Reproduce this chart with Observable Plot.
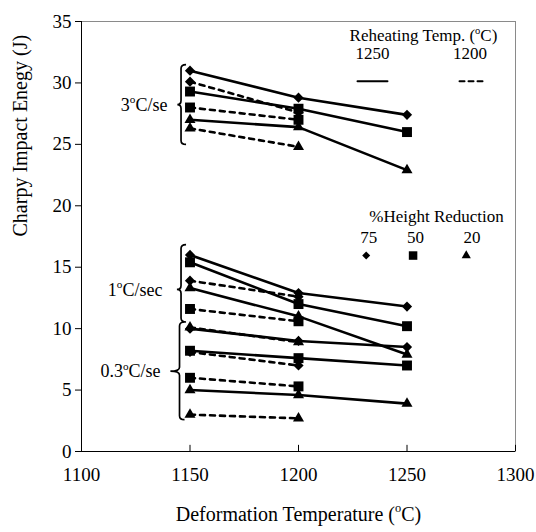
<!DOCTYPE html>
<html><head><meta charset="utf-8">
<script src="https://cdn.jsdelivr.net/npm/d3@7"></script>
<script src="https://cdn.jsdelivr.net/npm/@observablehq/plot@0.6"></script>
<style>body{margin:0;background:#fff} #chart{width:536px;height:532px} #chart text{font-family:'Liberation Serif','Times New Roman',serif}</style>
</head><body><div id="chart"></div>
<script>
// ---- data ----
const temps = [1150, 1200, 1250];
const reductions = [75, 50, 20];
const rateLabels = ["3°C/se", "1°C/sec", "0.3°C/se"];
// rows: 75, 50, 20 % height reduction; columns: deformation temperatures
const rate3_reheat1250 = [[31.0, 28.8, 27.4], [29.3, 27.9, 26.0], [27.0, 26.4, 22.9]];
const rate3_reheat1200 = [[30.1, 27.6], [28.0, 27.0], [26.3, 24.8]];
const rate1_reheat1250 = [[16.0, 12.9, 11.8], [15.4, 12.0, 10.2], [13.3, 11.0, 7.9]];
const rate1_reheat1200 = [[13.9, 12.6], [11.6, 10.6], [10.1, 8.9]];
const rate03_reheat1250 = [[10.0, 9.0, 8.5], [8.2, 7.6, 7.0], [5.0, 4.6, 3.9]];
const rate03_reheat1200 = [[8.1, 7.0], [6.0, 5.3], [3.0, 2.7]];
const xTicks = [1100, 1150, 1200, 1250, 1300];
const yTicks = [0, 5, 10, 15, 20, 25, 30, 35];
const reheatLabels = ["1250", "1200"];
const reductionLabels = ["75", "50", "20"];

// brace annotations (data units)
const braceTop = [31.45, 16.8, 10.5];
const braceBottom = [24.95, 10.5, 2.55];
const braceMid = [28.2, 13.15, 6.5];
const braceX = [1146.1, 1146.1, 1145.4];
const braceTipX = [1144.4, 1144.2, 1141.2];
const labelX = [1139.6, 1137.3, 1136.4];

// ---- build rows ----
const rows = [];
const groups = [
  [rate3_reheat1250, 1250, 0], [rate3_reheat1200, 1200, 0],
  [rate1_reheat1250, 1250, 1], [rate1_reheat1200, 1200, 1],
  [rate03_reheat1250, 1250, 2], [rate03_reheat1200, 1200, 2]
];
for (const [m, reheat, ri] of groups) {
  m.forEach((vals, i) => vals.forEach((v, j) => rows.push({
    key: ri + "-" + reheat + "-" + reductions[i], reheat, hr: reductions[i], T: temps[j], E: v
  })));
}
const solid = rows.filter(d => d.reheat === 1250);
const dashed = rows.filter(d => d.reheat === 1200);

const FONT = "'Liberation Serif', 'Times New Roman', serif";
const symbolOf = {75: ["diamond2", 4.6], 50: ["square", 5.6], 20: ["triangle", 4.1]};
const legendSymR = {75: 3.6, 50: 4.8, 20: 3.4};

const dotMarks = reductions.map(h => Plot.dot(rows.filter(d => d.hr === h), {
  x: "T", y: "E", symbol: symbolOf[h][0], r: symbolOf[h][1], fill: "black", stroke: "none"
}));

const legendTextMarks = [
  Plot.text(["Reheating Temp. (°C)"], {x: 1257.6, y: 33.86, fontSize: 17}),
  Plot.text(reheatLabels, {x: [1234.1, 1279.0], y: [32.4, 32.4], fontSize: 17}),
  Plot.line([[1227.2, 30.14], [1241.0, 30.14]], {stroke: "black", strokeWidth: 2}),
  Plot.line([[1274.2, 30.14], [1285.3, 30.14]], {stroke: "black", strokeWidth: 2, strokeDasharray: "5,4"}),
  Plot.text(["%Height Reduction"], {x: 1263.6, y: 19.1, fontSize: 17}),
  Plot.text(reductionLabels, {x: [1232.4, 1253.9, 1280.0], y: [17.42, 17.42, 17.42], fontSize: 17}),
  ...reductions.map((h, i) => Plot.dot([[ [1231.2, 1252.8, 1277.3][i], 15.95 ]], {
    symbol: symbolOf[h][0], r: legendSymR[h], fill: "black", stroke: "none"
  }))
];

const plot = Plot.plot({
  width: 536, height: 532,
  marginLeft: 81, marginRight: 21, marginTop: 21, marginBottom: 81,
  style: {fontFamily: FONT, fontSize: "19px", background: "white", color: "black"},
  x: {domain: [1100, 1300]},
  y: {domain: [0, 35]},
  marks: [
    Plot.frame({stroke: "#8a8a8a"}),
    Plot.ruleX([1100], {stroke: "black"}),
    Plot.ruleY([0], {stroke: "black"}),
    Plot.ruleX(xTicks, {y1: 0, y2: 0.5, stroke: "black"}),
    Plot.axisY(yTicks, {tickSize: 6, tickPadding: 4, label: null, fontSize: 19, tickFormat: d => String(d)}),
    Plot.axisX(xTicks, {tickSize: 0, tickPadding: 16, label: null, fontSize: 19, tickFormat: d => String(d)}),
    Plot.line(solid, {x: "T", y: "E", z: "key", stroke: "black", strokeWidth: 2.6}),
    Plot.line(dashed, {x: "T", y: "E", z: "key", stroke: "black", strokeWidth: 2.6, strokeDasharray: "5,5"}),
    ...dotMarks,
    Plot.text(rateLabels, {x: labelX, y: braceMid, textAnchor: "end", fontSize: 18}),
    ...legendTextMarks,
    Plot.text(["Deformation Temperature (°C)"], {frameAnchor: "bottom", dy: 69, fontSize: 20}),
    Plot.text(["Charpy Impact Enegy (J)"], {frameAnchor: "left", dx: -61, rotate: -90, fontSize: 20})
  ]
});
document.getElementById("chart").appendChild(plot);

// braces drawn with the plot's own scales
const sx = plot.scale("x"), sy = plot.scale("y");
const svg = d3.select(plot);
const g = svg.append("g").attr("fill", "none").attr("stroke", "black").attr("stroke-width", 1.7);
braceTop.forEach((t, i) => {
  const x = sx.apply(braceX[i]), xt = sx.apply(braceTipX[i]);
  const y1 = sy.apply(t), y2 = sy.apply(braceBottom[i]), ym = sy.apply(braceMid[i]);
  const w = 5, c = 4;
  const p = `M${x + w},${y1} Q${x},${y1} ${x},${y1 + c} L${x},${ym - c} Q${x},${ym} ${xt},${ym} Q${x},${ym} ${x},${ym + c} L${x},${y2 - c} Q${x},${y2} ${x + w},${y2}`;
  g.append("path").attr("d", p);
});

// serif font everywhere + superscript "o" for degree marks
svg.selectAll("text").attr("font-family", FONT);
svg.selectAll("text").each(function() {
  const el = this;
  if (!el.textContent.includes("°") || el.querySelector("tspan")) return;
  const fs = parseFloat(getComputedStyle(el).fontSize) || 18;
  const parts = el.textContent.split("°");
  el.textContent = "";
  parts.forEach((part, k) => {
    if (k > 0) {
      const sup = document.createElementNS("http://www.w3.org/2000/svg", "tspan");
      sup.setAttribute("font-size", (fs * 0.62) + "px");
      sup.setAttribute("dy", (-0.42 * fs) + "px");
      sup.textContent = "o";
      el.appendChild(sup);
    }
    const t = document.createElementNS("http://www.w3.org/2000/svg", "tspan");
    if (k > 0) t.setAttribute("dy", (0.42 * fs) + "px");
    t.textContent = part;
    el.appendChild(t);
  });
});
</script>
</body></html>
